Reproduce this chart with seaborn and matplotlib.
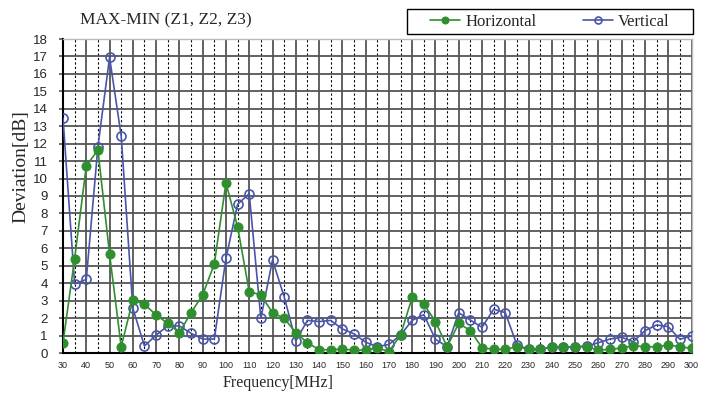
import numpy as np
import pandas as pd
import matplotlib
matplotlib.use("Agg")
import matplotlib.pyplot as plt
from matplotlib.patches import Rectangle
import seaborn as sns

# Frequency points (MHz)
freq = list(range(30, 301, 5))

# Max-min deviation over Z1..Z3 for each antenna polarization (dB)
horizontal = [0.59, 5.41, 10.72, 11.64, 5.68, 0.36, 3.04, 2.79, 2.18, 1.70,
              1.17, 2.31, 3.33, 5.10, 9.75, 7.24, 3.52, 3.33, 2.31, 1.99,
              1.17, 0.59, 0.19, 0.19, 0.22, 0.17, 0.17, 0.30, 0.08, 1.03,
              3.19, 2.81, 1.80, 0.36, 1.70, 1.28, 0.31, 0.21, 0.21, 0.36,
              0.22, 0.23, 0.33, 0.33, 0.36, 0.36, 0.17, 0.21, 0.29, 0.42,
              0.36, 0.36, 0.46, 0.36, 0.27]
vertical = [13.46, 3.96, 4.22, 11.83, 16.95, 12.44, 2.56, 0.40, 1.03, 1.55,
            1.55, 1.13, 0.80, 0.80, 5.42, 8.52, 9.14, 1.99, 5.33, 3.23,
            0.69, 1.87, 1.80, 1.87, 1.38, 1.10, 0.62, 0.36, 0.49, 1.03,
            1.87, 2.20, 0.79, 0.36, 2.31, 1.89, 1.47, 2.51, 2.31, 0.46,
            0.22, 0.23, 0.33, 0.33, 0.36, 0.40, 0.59, 0.80, 0.90, 0.65,
            1.28, 1.61, 1.51, 0.79, 0.97]

x_ticks = list(range(30, 301, 10))
y_ticks = list(range(0, 19))

GREEN = "#2f8f2f"
BLUE = "#4a55a8"

sns.set_theme(style="white")
plt.rcParams["font.family"] = ["Liberation Serif", "DejaVu Serif"]

df = pd.DataFrame({"freq": freq, "Horizontal": horizontal, "Vertical": vertical})

W, H = 708, 394
fig = plt.figure(figsize=(W / 100, H / 100), dpi=100)
ax = fig.add_axes([63 / W, 1 - 353 / H, 628.5 / W, 314 / H])

sns.lineplot(data=df, x="freq", y="Vertical", ax=ax, color=BLUE, lw=1.2,
             marker="o", markersize=6.5, markerfacecolor="none",
             markeredgecolor=BLUE, markeredgewidth=1.2, label="Vertical",
             zorder=3, legend=False)
sns.lineplot(data=df, x="freq", y="Horizontal", ax=ax, color=GREEN, lw=1.2,
             marker="o", markersize=6.5, markerfacecolor=GREEN,
             markeredgecolor=GREEN, label="Horizontal", zorder=4, legend=False)

ax.set_xlim(30, 300)
ax.set_ylim(0, 18)
ax.set_xticks(x_ticks)
ax.set_xticks(list(range(35, 300, 10)), minor=True)
ax.set_yticks(y_ticks)

# Grid: solid every 1 dB and every 10 MHz, dashed at the 5 MHz midpoints
ax.grid(which="major", axis="both", color="#555555", lw=1.3)
ax.grid(which="minor", axis="x", color="black", lw=0.8, ls=(0, (2, 2)))
ax.set_axisbelow(True)

for side in ("top", "right"):
    ax.spines[side].set_color("#bbbbbb")
    ax.spines[side].set_linewidth(1.0)
for side in ("left", "bottom"):
    ax.spines[side].set_color("black")
    ax.spines[side].set_linewidth(1.5)

ax.tick_params(axis="x", which="both", length=0, pad=6, labelsize=6.5)
ax.tick_params(axis="y", which="major", length=3, width=1.2, color="#555555",
               pad=8, labelsize=9.5, left=True)
for lbl in ax.get_xticklabels() + ax.get_yticklabels():
    lbl.set_family(["Liberation Sans", "DejaVu Sans"])

ax.set_xlabel("Frequency[MHz]", fontsize=11.5, va="center")
ax.xaxis.set_label_coords((278 - 63) / 628.5, (353 - 383) / 314)
ax.set_ylabel("Deviation[dB]", fontsize=14, va="center")
ax.yaxis.set_label_coords((21 - 63) / 628.5, (353 - 167) / 314)

fig.text(166 / W, 1 - 20 / H, "MAX-MIN (Z1, Z2, Z3)", ha="center",
         va="center", fontsize=12.5)

# Legend box above the plot, right-aligned
fig.patches.append(Rectangle((407 / W, 1 - 34 / H), 286 / W, 25 / H,
                             transform=fig.transFigure, fill=False,
                             edgecolor="black", lw=1.0))
handles, labels = ax.get_legend_handles_labels()
order = [labels.index("Horizontal"), labels.index("Vertical")]
leg = fig.legend([handles[i] for i in order], [labels[i] for i in order],
                 loc="center", bbox_to_anchor=(550 / W, 1 - 21.5 / H),
                 ncol=2, frameon=False, fontsize=12,
                 handlelength=1.8, columnspacing=2.8, borderpad=0.2,
                 handletextpad=0.3, borderaxespad=0)
for h in leg.legend_handles:
    h.set_markersize(5)

fig.savefig("out.png", dpi=100)
